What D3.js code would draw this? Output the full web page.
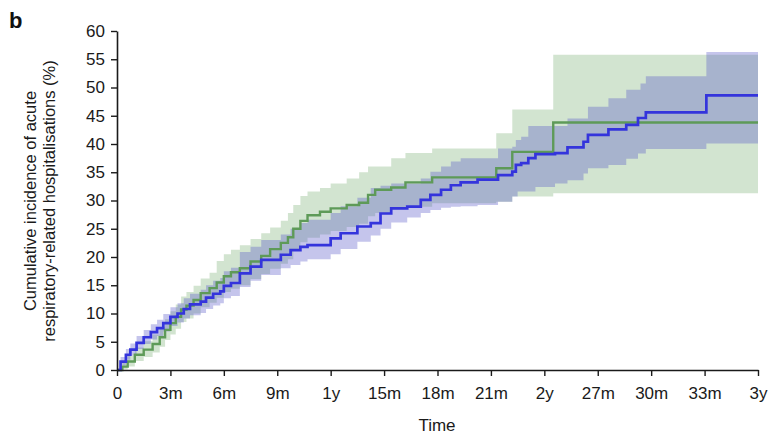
<!DOCTYPE html>
<html><head><meta charset="utf-8">
<script src="https://cdn.jsdelivr.net/npm/d3@7"></script>
<style>
body{margin:0;background:#fff;}
text{font-family:"Liberation Sans",Arial,Helvetica,sans-serif;}
</style></head>
<body><svg id="chart" width="770" height="436"></svg>
<script>
// X tick positions (months) and labels
const xTicks = [0,3,6,9,12,15,18,21,24,27,30,33,36];
const xTickLabels = ["0","3m","6m","9m","1y","15m","18m","21m","2y","27m","30m","33m","3y"];
const yTicks = [0,5,10,15,20,25,30,35,40,45,50,55,60];

// Blue group (step times in months)
const blueTime = [0,0.2,0.5,0.75,1.1,1.5,1.9,2.25,2.6,3.0,3.4,3.75,4.1,4.7,5.0,5.4,5.8,6.0,6.4,6.9,7.5,8.1,9.2,9.75,10.3,10.7,12.0,12.56,13.5,14.25,14.8,15.4,16.3,17.06,17.6,18.2,18.75,19.3,20.25,21.4,22.2,22.4,22.5,22.7,23.1,23.5,24.6,25.3,26.2,26.45,27.6,28.6,29.26,29.4,29.7,33.1];
const blueEst  = [0,1.5,2.7,3.6,4.8,5.8,6.7,7.4,8.3,9.4,10.0,10.8,11.6,12.1,12.8,13.5,13.9,14.9,15.4,17.1,18.3,19.5,20.4,21.2,21.8,22.1,23.3,24.2,25.4,26.0,27.7,28.6,28.9,30.1,31.0,31.9,32.7,33.2,33.7,34.5,35.1,36.3,36.3,36.6,37.5,38.2,38.4,39.4,40.4,41.6,42.6,43.4,44.6,44.6,45.6,48.6];
const blueLow  = [0,0.8,1.8,2.6,3.7,4.6,5.4,6.0,6.8,7.8,8.4,9.1,9.7,10.1,10.8,11.4,11.8,12.7,13.1,14.7,15.8,16.8,18.0,18.6,19.2,19.6,20.5,21.4,22.7,23.8,25.0,26.1,27.0,27.8,28.3,28.7,28.9,29.0,29.2,29.8,30.7,30.7,31.6,31.6,31.6,32.4,33.0,33.6,34.8,35.7,36.3,37.4,38.3,38.3,39.1,40.1];
const blueHigh = [0,2.3,3.7,4.7,6.0,7.1,8.1,8.9,9.9,11.1,11.8,12.7,13.5,14.2,15.0,15.8,16.3,17.5,18.1,20.9,21.8,23.0,24.0,25.0,26.0,26.6,27.8,29.0,30.5,32.2,32.6,33.0,33.0,33.9,35.1,36.0,36.9,37.5,37.5,39.2,39.5,40.7,40.7,41.3,43.2,43.2,43.2,44.5,44.5,46.6,48.1,49.6,49.6,50.7,52.0,56.3];

// Green group
const greenTime = [0,0.3,0.6,1.0,1.5,2.0,2.4,2.7,3.0,3.3,3.6,3.9,4.3,4.7,5.2,5.6,6.0,6.4,6.9,7.5,8.1,8.6,9.2,9.6,9.9,10.3,10.7,11.4,12.0,12.9,13.6,14.1,14.5,15.4,16.2,17.7,21.3,22.2,24.5];
const greenEst  = [0,0.6,1.5,2.7,3.6,4.6,5.8,7.1,8.3,9.4,10.7,11.4,12.4,13.6,14.5,15.5,16.6,17.3,18.0,19.2,20.2,21.4,22.5,23.5,25.0,26.4,27.4,28.0,28.6,29.2,29.6,31.0,31.9,32.3,33.2,34.1,35.7,38.6,43.8];
const greenLow  = [0,0.1,0.6,1.6,2.3,3.1,4.1,5.3,6.3,7.3,8.5,9.1,10.0,11.1,11.9,12.8,13.8,14.4,15.0,16.1,17.0,17.9,18.8,19.6,21.2,22.6,23.4,24.0,24.6,25.3,25.9,27.2,27.8,28.4,28.9,29.5,29.8,30.7,31.3];
const greenHigh = [0,1.5,2.6,4.0,5.1,6.3,7.6,9.0,10.4,11.6,13.0,13.8,14.9,16.2,17.2,19.3,20.5,21.3,22.1,23.2,24.2,25.2,26.4,27.8,29.2,30.8,31.6,32.2,33.0,33.9,35.0,36.0,36.0,37.5,38.4,39.2,41.9,46.1,55.8];

const tEnd = 36;

const svg = d3.select("#chart");
const x = d3.scaleLinear().domain([0,36]).range([117,758]);
const y = d3.scaleLinear().domain([0,60]).range([370,31]);

function series(time, est, low, high){
  const d = time.map((t,i)=>({t, e:est[i], l:low[i], h:high[i]}));
  const last = d[d.length-1];
  d.push({t:tEnd, e:last.e, l:last.l, h:last.h});
  return d;
}
const blue = series(blueTime, blueEst, blueLow, blueHigh);
const green = series(greenTime, greenEst, greenLow, greenHigh);

const area = d3.area().curve(d3.curveStepAfter).x(d=>x(d.t)).y0(d=>y(d.l)).y1(d=>y(d.h));
const line = d3.line().curve(d3.curveStepAfter).x(d=>x(d.t)).y(d=>y(d.e));

svg.append("path").datum(green).attr("d",area).attr("fill","rgb(107,164,99)").attr("fill-opacity",0.3);
svg.append("path").datum(blue).attr("d",area).attr("fill","rgb(90,90,200)").attr("fill-opacity",0.35);
svg.append("path").datum(green).attr("d",line).attr("fill","none").attr("stroke","#5e9a58").attr("stroke-width",2.4);
svg.append("path").datum(blue).attr("d",line).attr("fill","none").attr("stroke","#3434dc").attr("stroke-width",2.7);

// Axes
const xAxis = d3.axisBottom(x).tickValues(xTicks).tickFormat((d,i)=>xTickLabels[i]).tickSize(6).tickSizeOuter(0).tickPadding(11);
const yAxis = d3.axisLeft(y).tickValues(yTicks).tickSize(6).tickSizeOuter(0).tickPadding(6);

const gx = svg.append("g").attr("transform","translate(0,370)").call(xAxis);
const gy = svg.append("g").attr("transform","translate(117,0)").call(yAxis);
[gx,gy].forEach(g=>{
  g.select(".domain").attr("stroke","#1a1a1a").attr("stroke-width",1.6);
  g.selectAll(".tick line").attr("stroke","#1a1a1a").attr("stroke-width",1.4);
  g.selectAll(".tick text").attr("fill","#1a1a1a").style("font-size","17px").style("font-family","'Liberation Sans',Arial,sans-serif");
});

svg.append("text").attr("x",437).attr("y",431).attr("text-anchor","middle").style("font-size","17px").attr("fill","#1a1a1a").text("Time");

const yl = svg.append("g").attr("transform","translate(0,201) rotate(-90)");
yl.append("text").attr("x",0).attr("y",36).attr("text-anchor","middle").style("font-size","16.5px").attr("fill","#1a1a1a").text("Cumulative incidence of acute");
yl.append("text").attr("x",0).attr("y",55).attr("text-anchor","middle").style("font-size","16.5px").attr("fill","#1a1a1a").text("respiratory-related hospitalisations (%)");

svg.append("text").attr("x",9).attr("y",28).style("font-size","22px").style("font-weight","bold").attr("fill","#111").text("b");
</script></body></html>
